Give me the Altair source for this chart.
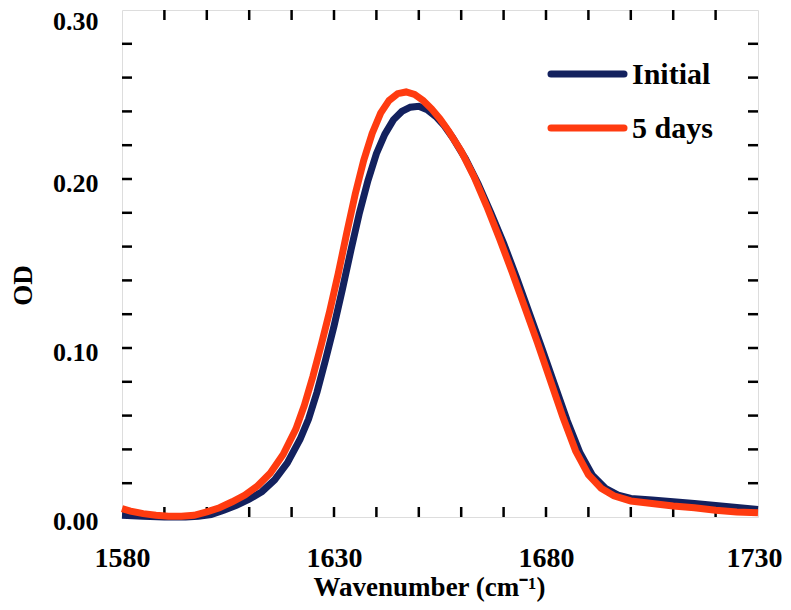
import altair as alt
import pandas as pd

# ---- data ----
wn_initial = [1580, 1585, 1590, 1595, 1598, 1601, 1604, 1607, 1610, 1613, 1616, 1619, 1622, 1624,
              1626, 1628, 1630, 1632, 1634, 1636, 1638, 1640, 1642, 1644, 1646, 1648, 1650, 1652,
              1654, 1656, 1658, 1661, 1664, 1667, 1670, 1673, 1676, 1679, 1682, 1685, 1688, 1691,
              1694, 1697, 1700, 1705, 1710, 1715, 1720, 1725, 1730]
od_initial = [0.0010, 0.0005, 0.0000, 0.0000, 0.0005, 0.0015, 0.0040, 0.0070, 0.0105, 0.0150,
              0.0220, 0.0320, 0.0460, 0.0580, 0.0740, 0.0930, 0.1130, 0.1350, 0.1580, 0.1800,
              0.1990, 0.2150, 0.2265, 0.2350, 0.2400, 0.2425, 0.2430, 0.2410, 0.2370, 0.2315,
              0.2245, 0.2120, 0.1970, 0.1800, 0.1620, 0.1420, 0.1210, 0.1000, 0.0785, 0.0570,
              0.0380, 0.0245, 0.0170, 0.0130, 0.0110, 0.0100, 0.0090, 0.0080, 0.0068, 0.0056,
              0.0045]

wn_5days = [1580, 1582, 1585, 1588, 1591, 1594, 1597, 1600, 1603, 1606, 1609, 1612, 1615, 1618,
            1621, 1623, 1625, 1627, 1629, 1631, 1633, 1635, 1637, 1639, 1641, 1643, 1645, 1647,
            1649, 1651, 1653, 1655, 1657, 1660, 1663, 1666, 1669, 1672, 1675, 1678, 1681, 1684,
            1687, 1690, 1693, 1696, 1700, 1705, 1710, 1715, 1720, 1725, 1730]
od_5days = [0.0050, 0.0035, 0.0020, 0.0010, 0.0005, 0.0005, 0.0010, 0.0030, 0.0055, 0.0090,
            0.0130, 0.0185, 0.0260, 0.0370, 0.0520, 0.0660, 0.0830, 0.1020, 0.1220, 0.1440,
            0.1680, 0.1910, 0.2110, 0.2270, 0.2390, 0.2465, 0.2505, 0.2515, 0.2500, 0.2465,
            0.2415, 0.2355, 0.2285, 0.2165, 0.2015, 0.1840, 0.1650, 0.1450, 0.1240, 0.1030,
            0.0810, 0.0590, 0.0390, 0.0250, 0.0170, 0.0125, 0.0095, 0.0080, 0.0065, 0.0055,
            0.0040, 0.0030, 0.0025]

series_names = ["Initial", "5 days"]
series_colors = ["#13215e", "#ff3b10"]

x_major = [1580, 1630, 1680, 1730]
x_minor = list(range(1590, 1730, 10))
y_major = [0.0, 0.1, 0.2, 0.3]
y_minor = [0.02, 0.04, 0.06, 0.08, 0.10, 0.12, 0.14, 0.16, 0.18, 0.20, 0.22, 0.24, 0.26, 0.28]

FONT = "Liberation Serif"
W, H = 636, 507

df_init = pd.DataFrame({"wn": wn_initial, "od": od_initial})
df_5 = pd.DataFrame({"wn": wn_5days, "od": od_5days})
df_xt = pd.DataFrame({"wn": x_minor})
df_yt = pd.DataFrame({"od": y_minor})

xscale = alt.Scale(domain=[1580, 1730], nice=False, zero=False)
yscale = alt.Scale(domain=[0, 0.30], nice=False)

xaxis = alt.Axis(values=x_major, format="d", ticks=False, domain=False, grid=False,
                 labelFont=FONT, labelFontWeight="bold", labelFontSize=28, labelColor="black",
                 labelPadding=27, labelOverlap=False, labelFlush=False,
                 labelOffset={"condition": {"test": "datum.value >= 1729", "value": -4}, "value": 0},
                 title="Wavenumber (cm\u207b\u00b9)", titleFont=FONT, titleFontWeight="bold",
                 titleFontSize=27, titleColor="black", titleX=307, titleY=78,
                 titleBaseline="alphabetic", titleAlign="center")
yaxis = alt.Axis(values=y_major, format=".2f", ticks=False, domain=False, grid=False,
                 labelFont=FONT, labelFontWeight="bold", labelFontSize=26, labelColor="black",
                 labelPadding=24, labelOverlap=False, labelFlush=False,
                 labelOffset={"condition": {"test": "datum.value >= 0.29", "value": 11}, "value": 4},
                 title="OD", titleFont=FONT, titleFontWeight="bold", titleFontSize=27,
                 titleColor="black", titleX=-99, titleY=275, titleAngle=-90,
                 titleBaseline="middle", titleAlign="center")

line_init = alt.Chart(df_init).mark_line(color=series_colors[0], strokeWidth=7).encode(
    x=alt.X("wn:Q", scale=xscale, axis=xaxis),
    y=alt.Y("od:Q", scale=yscale, axis=yaxis),
)
line_5 = alt.Chart(df_5).mark_line(color=series_colors[1], strokeWidth=7).encode(
    x=alt.X("wn:Q", scale=xscale),
    y=alt.Y("od:Q", scale=yscale),
)

tick_style = dict(color="black", strokeWidth=2.5)
xt_bottom = alt.Chart(df_xt).mark_rule(**tick_style).encode(
    x=alt.X("wn:Q", scale=xscale), y=alt.value(H), y2=alt.value(H - 10))
xt_top = alt.Chart(df_xt).mark_rule(**tick_style).encode(
    x=alt.X("wn:Q", scale=xscale), y=alt.value(0), y2=alt.value(10))
yt_left = alt.Chart(df_yt).mark_rule(**tick_style).encode(
    y=alt.Y("od:Q", scale=yscale), x=alt.value(0), x2=alt.value(10))
yt_right = alt.Chart(df_yt).mark_rule(**tick_style).encode(
    y=alt.Y("od:Q", scale=yscale), x=alt.value(W), x2=alt.value(W - 10))

legend_layers = []
for i, (name, col) in enumerate(zip(series_names, series_colors)):
    ly = 64 + i * 54
    ldf = pd.DataFrame({"label": [name]})
    legend_layers.append(
        alt.Chart(ldf).mark_rule(color=col, strokeWidth=7, strokeCap="round").encode(
            x=alt.value(429), x2=alt.value(502), y=alt.value(ly)))
    legend_layers.append(
        alt.Chart(ldf).mark_text(font=FONT, fontWeight="bold", fontSize=30, color="black",
                                 align="left", baseline="middle").encode(
            x=alt.value(510), y=alt.value(ly + 1), text="label:N"))

chart = alt.layer(xt_bottom, xt_top, yt_left, yt_right, line_init, line_5, *legend_layers).properties(
    width=W, height=H,
    autosize=alt.AutoSizeParams(type="none"),
    padding={"left": 114, "top": 2, "right": 25, "bottom": 90},
).configure_view(stroke="black", strokeWidth=2.5).configure(background="white")

chart.save("out.html", embed_options={"renderer": "svg", "actions": False})
